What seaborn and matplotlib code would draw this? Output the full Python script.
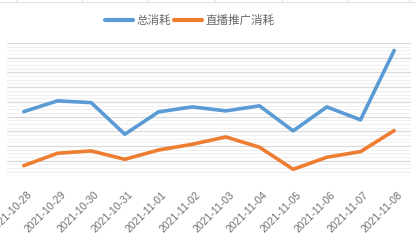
import matplotlib
matplotlib.use("Agg")
import matplotlib.pyplot as plt
import matplotlib.transforms as mtransforms
import seaborn as sns
import pandas as pd
from matplotlib.lines import Line2D

dates = ["2021-10-28", "2021-10-29", "2021-10-30", "2021-10-31", "2021-11-01",
         "2021-11-02", "2021-11-03", "2021-11-04", "2021-11-05", "2021-11-06",
         "2021-11-07", "2021-11-08"]
total = [434, 507, 495, 280, 432, 466, 439, 473, 303, 466, 378, 849]
live = [67, 151, 167, 110, 173, 212, 262, 192, 42, 124, 162, 305]
series_names = ["总消耗", "直播推广消耗"]
colors = ["#5b9bd5", "#ed7d31"]

df = pd.DataFrame({
    "date": dates * 2,
    "value": total + live,
    "series": [series_names[0]] * len(dates) + [series_names[1]] * len(dates),
})

sns.set_style("white")
plt.rcParams["font.family"] = ["Noto Sans CJK SC", "DejaVu Sans"]

fig = plt.figure(figsize=(4.16, 2.46), dpi=100)
W, H = 416, 246
left, right, top, bottom = 7, 411, 43, 175.5
ax = fig.add_axes([left / W, 1 - bottom / H, (right - left) / W, (bottom - top) / H])

sns.lineplot(data=df, x="date", y="value", hue="series", palette=colors,
             linewidth=2.6, ax=ax, legend=False, sort=False)

ax.set_xlim(-0.5, len(dates) - 0.5)
ax.set_ylim(0, 900)
ax.set_yticks(range(0, 901, 100))
ax.set_yticks(range(0, 901, 25), minor=True)
ax.grid(axis="y", which="major", color="#d9d9d9", linewidth=0.9)
ax.grid(axis="y", which="minor", color="#f0f0f0", linewidth=0.8)
ax.grid(axis="x", visible=False)
ax.tick_params(axis="y", which="both", left=False, labelleft=False)
ax.tick_params(axis="x", length=0, pad=10, labelsize=7.6, labelcolor="#707070")
ax.set_xticks(range(len(dates)))
ax.set_xticklabels(dates, rotation=45, ha="right", rotation_mode="anchor",
                   family=["Liberation Sans", "DejaVu Sans"])
offset = mtransforms.ScaledTranslation(3 / 100, 0, fig.dpi_scale_trans)
for lab in ax.get_xticklabels():
    lab.set_transform(lab.get_transform() + offset)
for s in ax.spines.values():
    s.set_visible(False)
ax.set_xlabel("")
ax.set_ylabel("")

handles = [Line2D([], [], color=c, linewidth=3) for c in colors]
fig.legend(handles, series_names, loc="center", bbox_to_anchor=(190 / W, 1 - 20.5 / H),
           ncol=2, frameon=False, fontsize=8.3, labelcolor="#666666",
           handlelength=2.4, handletextpad=0.3, columnspacing=0.3)

# faint table border remnants at the very top
fig.add_artist(Line2D([0, 1], [1 - 1.8 / H, 1 - 1.8 / H], transform=fig.transFigure,
                      color="#e3e3e3", linewidth=0.8))
for xv in [16, 82, 148, 215, 282, 348, 409]:
    fig.add_artist(Line2D([xv / W, xv / W], [1, 1 - 2 / H], transform=fig.transFigure,
                          color="#e3e3e3", linewidth=0.8))

fig.savefig("out.png", dpi=100)
